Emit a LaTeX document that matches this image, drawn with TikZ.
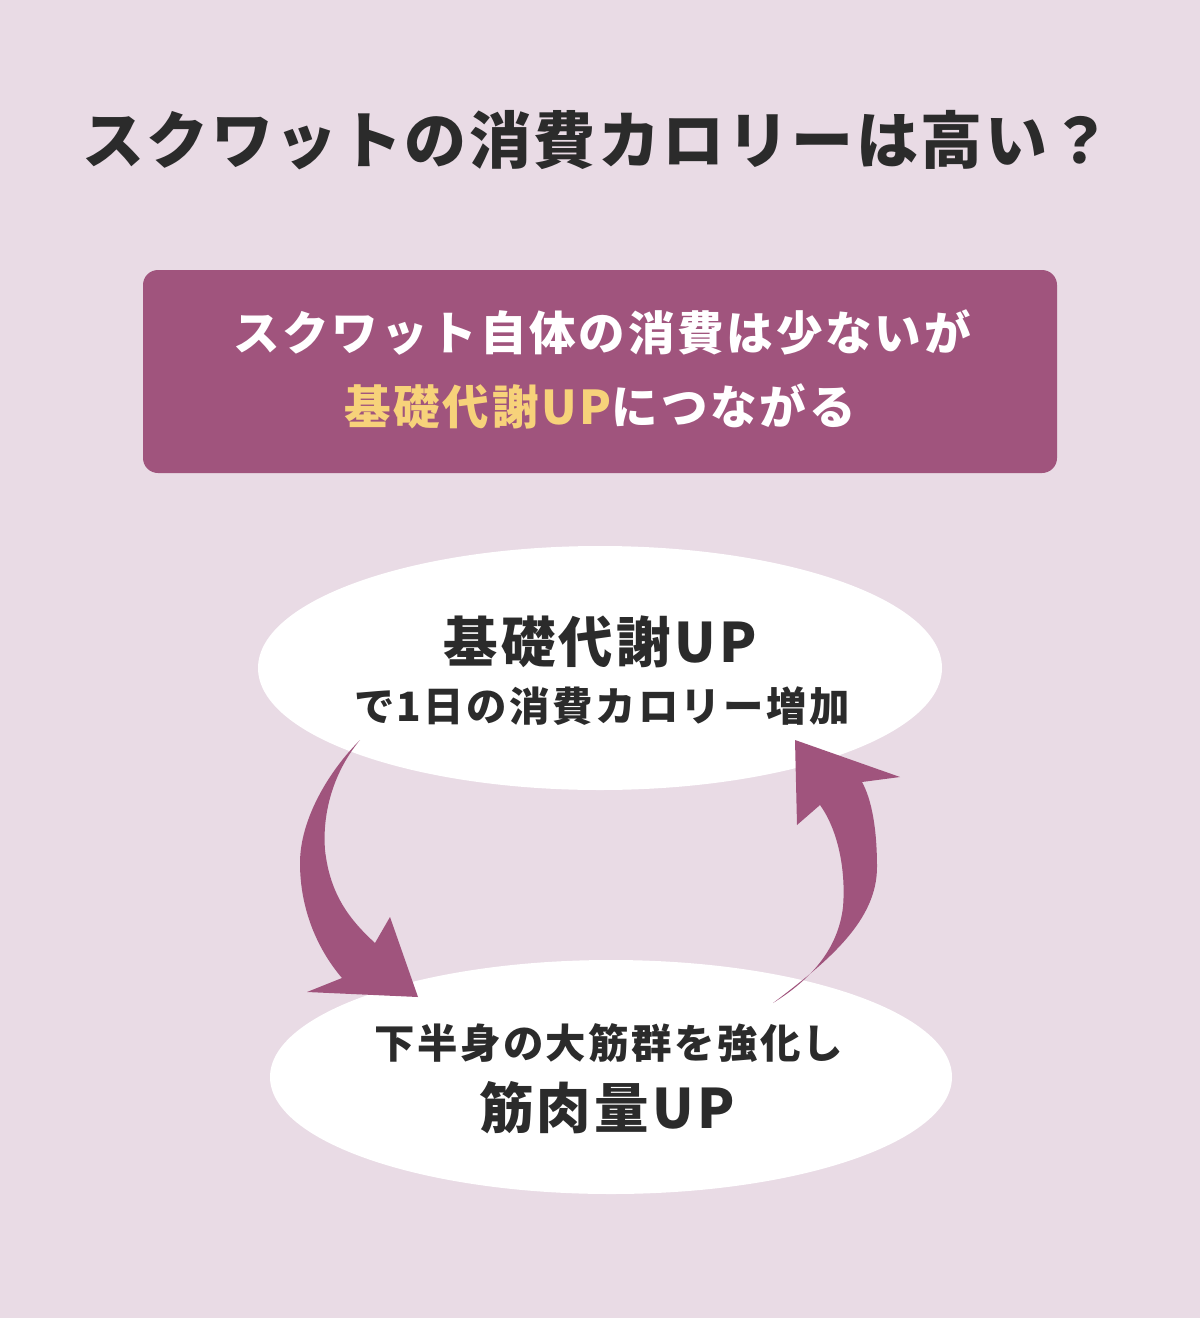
\documentclass[tikz,border=0pt]{standalone}
\usepackage{fontspec}
\newfontfamily\jp{Noto Sans CJK JP}[LetterSpace=6]
\newfontfamily\jpt{Noto Sans CJK JP}[LetterSpace=4]
\definecolor{bgc}{HTML}{E9DBE5}
\definecolor{plum}{HTML}{A0547D}
\definecolor{gold}{HTML}{F7D27A}
\definecolor{ink}{HTML}{2B2B2B}
\tikzset{
  txt/.style={font=\jp\bfseries, text=ink, inner sep=0pt, anchor=center},
  arrowfill/.style={fill=plum, draw=none}
}
\begin{document}
\begin{tikzpicture}[x=0.02cm, y=-0.02cm]
\useasboundingbox (0,0) rectangle (1200,1318);
\fill[bgc] (0,0) rectangle (1200,1318);
% title
\node[txt, font=\jpt\bfseries\fontsize{35.3}{40}\selectfont] (title) at (597,140) {スクワットの消費カロリーは高い？};
% box
\fill[plum, rounded corners=0.3cm] (143,270) rectangle (1057,473);
\node[txt, text=white, font=\jp\bfseries\fontsize{26.5}{30}\selectfont] (l1) at (602,333) {スクワット自体の消費は少ないが};
\node[txt, text=white, font=\jp\bfseries\fontsize{26.5}{30}\selectfont] (l2) at (600,406) {\textcolor{gold}{基礎代謝UP}につながる};
% ellipses
\fill[white] (600,668) ellipse [x radius=342, y radius=-122];
\fill[white] (611,1077) ellipse [x radius=341, y radius=-117];
\node[txt, font=\jp\bfseries\fontsize{31}{36}\selectfont] (t1) at (600,642) {基礎代謝UP};
\node[txt, font=\jp\bfseries\fontsize{23}{26}\selectfont] (t2) at (602,706) {で1日の消費カロリー増加};
\node[txt, font=\jp\bfseries\fontsize{23}{26}\selectfont] (b1) at (609,1043) {下半身の大筋群を強化し};
\node[txt, font=\jp\bfseries\fontsize{31}{36}\selectfont] (b2) at (607,1108) {筋肉量UP};
% left arrow
\fill[arrowfill] (360,740) .. controls (328,772) and (300,820) .. (300,863)
  .. controls (300,910) and (318,950) .. (342,978)
  -- (307,992) -- (418,997) -- (390,917) -- (375,943)
  .. controls (350,920) and (330,895) .. (325,850)
  .. controls (322,810) and (335,770) .. cycle;
% right arrow
\fill[arrowfill] (773,1003) .. controls (830,960) and (877,920) .. (877,867)
  .. controls (877,830) and (872,800) .. (862,782)
  -- (900,777) -- (795,740) -- (797,825) -- (820,805)
  .. controls (838,830) and (846,870) .. (843,907)
  .. controls (838,950) and (810,980) .. cycle;
\end{tikzpicture}
\end{document}
